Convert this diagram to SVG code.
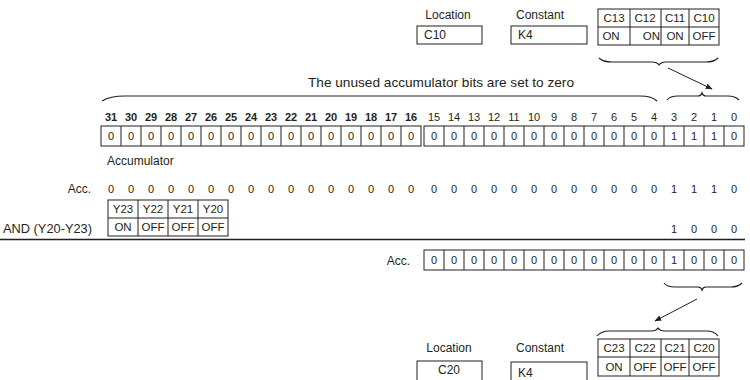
<svg xmlns="http://www.w3.org/2000/svg" width="750" height="380" viewBox="0 0 750 380">
<defs>
<style>
text{font-family:"Liberation Sans",Arial,sans-serif;font-size:11px;fill:#231f20}
.l{font-size:12px}
.t{font-size:11.5px}
.c{text-anchor:middle}
.e{text-anchor:end}
.b{font-weight:bold}
.box{fill:#fff;stroke:#231f20;stroke-width:1}
.ln{fill:none;stroke:#231f20;stroke-width:1}
.br{fill:none;stroke:#231f20;stroke-width:1.2}
</style>
<marker id="ah" viewBox="0 0 10 10" refX="9" refY="5" markerWidth="7" markerHeight="7" orient="auto" markerUnits="userSpaceOnUse">
<path d="M0,1 L10,5 L0,9 z" fill="#231f20"/>
</marker>
</defs>
<rect width="750" height="380" fill="#fff"/>

<g id="top-location">
<text x="448" y="19" class="c l">Location</text>
<rect x="417" y="26" width="65" height="18" class="box"/>
<text x="424" y="39" class="l">C10</text>
</g>
<g id="top-constant">
<text x="540" y="19" class="c l">Constant</text>
<rect x="511" y="26" width="76" height="18" class="box"/>
<text x="518" y="39" class="l">K4</text>
</g>
<g id="top-table">
<rect x="598" y="9" width="121" height="36" class="box"/>
<path d="M598,27H719M630,9V45M661,9V45M689,9V45" class="ln"/>
<text x="614" y="22" class="c t">C13</text>
<text x="645" y="22" class="c t">C12</text>
<text x="675" y="22" class="c t">C11</text>
<text x="704" y="22" class="c t">C10</text>
<text x="611" y="40" class="c t">ON</text>
<text x="660" y="40" class="e t">ON</text>
<text x="675" y="40" class="c t">ON</text>
<text x="704" y="40" class="c t">OFF</text>
</g>

<g id="unused-label">
<text x="441" y="87" class="c" style="font-size:13px" textLength="266" lengthAdjust="spacingAndGlyphs">The unused accumulator bits are set to zero</text>
</g>

<g id="bit-numbers">
<text x="111" y="121" class="c b">31</text><text x="131" y="121" class="c b">30</text><text x="151" y="121" class="c b">29</text><text x="171" y="121" class="c b">28</text>
<text x="191" y="121" class="c b">27</text><text x="211" y="121" class="c b">26</text><text x="231" y="121" class="c b">25</text><text x="251" y="121" class="c b">24</text>
<text x="271" y="121" class="c b">23</text><text x="291" y="121" class="c b">22</text><text x="311" y="121" class="c b">21</text><text x="331" y="121" class="c b">20</text>
<text x="351" y="121" class="c b">19</text><text x="371" y="121" class="c b">18</text><text x="391" y="121" class="c b">17</text><text x="411" y="121" class="c b">16</text>
<text x="434" y="121" class="c">15</text><text x="454" y="121" class="c">14</text><text x="474" y="121" class="c">13</text><text x="494" y="121" class="c">12</text>
<text x="514" y="121" class="c">11</text><text x="534" y="121" class="c">10</text><text x="554" y="121" class="c">9</text><text x="574" y="121" class="c">8</text>
<text x="594" y="121" class="c">7</text><text x="614" y="121" class="c">6</text><text x="634" y="121" class="c">5</text><text x="654" y="121" class="c">4</text>
<text x="674" y="121" class="c">3</text><text x="694" y="121" class="c">2</text><text x="714" y="121" class="c">1</text><text x="734" y="121" class="c">0</text>
</g>

<g id="accumulator-register">
<rect x="101" y="126" width="320" height="20" class="box"/>
<path d="M121,126V146M141,126V146M161,126V146M181,126V146M201,126V146M221,126V146M241,126V146M261,126V146M281,126V146M301,126V146M321,126V146M341,126V146M361,126V146M381,126V146M401,126V146" class="ln"/>
<rect x="424" y="126" width="320" height="20" class="box"/>
<path d="M444,126V146M464,126V146M484,126V146M504,126V146M524,126V146M544,126V146M564,126V146M584,126V146M604,126V146M624,126V146M644,126V146M664,126V146M684,126V146M704,126V146M724,126V146" class="ln"/>
<text x="111" y="140" class="c">0</text><text x="131" y="140" class="c">0</text><text x="151" y="140" class="c">0</text><text x="171" y="140" class="c">0</text>
<text x="191" y="140" class="c">0</text><text x="211" y="140" class="c">0</text><text x="231" y="140" class="c">0</text><text x="251" y="140" class="c">0</text>
<text x="271" y="140" class="c">0</text><text x="291" y="140" class="c">0</text><text x="311" y="140" class="c">0</text><text x="331" y="140" class="c">0</text>
<text x="351" y="140" class="c">0</text><text x="371" y="140" class="c">0</text><text x="391" y="140" class="c">0</text><text x="411" y="140" class="c">0</text>
<text x="434" y="140" class="c">0</text><text x="454" y="140" class="c">0</text><text x="474" y="140" class="c">0</text><text x="494" y="140" class="c">0</text>
<text x="514" y="140" class="c">0</text><text x="534" y="140" class="c">0</text><text x="554" y="140" class="c">0</text><text x="574" y="140" class="c">0</text>
<text x="594" y="140" class="c">0</text><text x="614" y="140" class="c">0</text><text x="634" y="140" class="c">0</text><text x="654" y="140" class="c">0</text>
<text x="674" y="140" class="c">1</text><text x="694" y="140" class="c">1</text><text x="714" y="140" class="c">1</text><text x="734" y="140" class="c">0</text>
<text x="107" y="165" class="l">Accumulator</text>
</g>

<g id="acc-row">
<text x="91" y="193" class="e l">Acc.</text>
<text x="111" y="193" class="c">0</text><text x="131" y="193" class="c">0</text><text x="151" y="193" class="c">0</text><text x="171" y="193" class="c">0</text>
<text x="191" y="193" class="c">0</text><text x="211" y="193" class="c">0</text><text x="231" y="193" class="c">0</text><text x="251" y="193" class="c">0</text>
<text x="271" y="193" class="c">0</text><text x="291" y="193" class="c">0</text><text x="311" y="193" class="c">0</text><text x="331" y="193" class="c">0</text>
<text x="351" y="193" class="c">0</text><text x="371" y="193" class="c">0</text><text x="391" y="193" class="c">0</text><text x="411" y="193" class="c">0</text>
<text x="434" y="193" class="c">0</text><text x="454" y="193" class="c">0</text><text x="474" y="193" class="c">0</text><text x="494" y="193" class="c">0</text>
<text x="514" y="193" class="c">0</text><text x="534" y="193" class="c">0</text><text x="554" y="193" class="c">0</text><text x="574" y="193" class="c">0</text>
<text x="594" y="193" class="c">0</text><text x="614" y="193" class="c">0</text><text x="634" y="193" class="c">0</text><text x="654" y="193" class="c">0</text>
<text x="674" y="193" class="c">1</text><text x="694" y="193" class="c">1</text><text x="714" y="193" class="c">1</text><text x="734" y="193" class="c">0</text>
</g>

<g id="and-operand">
<rect x="108" y="200" width="120" height="36" class="box"/>
<path d="M108,218H228M138,200V236M168,200V236M198,200V236" class="ln"/>
<text x="123" y="213" class="c t">Y23</text><text x="153" y="213" class="c t">Y22</text><text x="183" y="213" class="c t">Y21</text><text x="213" y="213" class="c t">Y20</text>
<text x="123" y="231" class="c t">ON</text><text x="153" y="231" class="c t">OFF</text><text x="183" y="231" class="c t">OFF</text><text x="213" y="231" class="c t">OFF</text>
<text x="3" y="233" class="l" textLength="89" lengthAdjust="spacingAndGlyphs">AND (Y20-Y23)</text>
<text x="674" y="233" class="c">1</text><text x="694" y="233" class="c">0</text><text x="714" y="233" class="c">0</text><text x="734" y="233" class="c">0</text>
</g>

<g id="result-acc">
<path d="M0,239.5H745" fill="none" stroke="#231f20" stroke-width="1.5"/>
<text x="410" y="265" class="e l">Acc.</text>
<rect x="424" y="250" width="320" height="20" class="box"/>
<path d="M444,250V270M464,250V270M484,250V270M504,250V270M524,250V270M544,250V270M564,250V270M584,250V270M604,250V270M624,250V270M644,250V270M664,250V270M684,250V270M704,250V270M724,250V270" class="ln"/>
<text x="434" y="264" class="c">0</text><text x="454" y="264" class="c">0</text><text x="474" y="264" class="c">0</text><text x="494" y="264" class="c">0</text>
<text x="514" y="264" class="c">0</text><text x="534" y="264" class="c">0</text><text x="554" y="264" class="c">0</text><text x="574" y="264" class="c">0</text>
<text x="594" y="264" class="c">0</text><text x="614" y="264" class="c">0</text><text x="634" y="264" class="c">0</text><text x="654" y="264" class="c">0</text>
<text x="674" y="264" class="c">1</text><text x="694" y="264" class="c">0</text><text x="714" y="264" class="c">0</text><text x="734" y="264" class="c">0</text>
</g>

<g id="bottom-location">
<text x="449" y="352" class="c l">Location</text>
<rect x="417" y="361" width="65" height="25" class="box"/>
<text x="449" y="374" class="c l">C20</text>
</g>
<g id="bottom-constant">
<text x="540" y="352" class="c l">Constant</text>
<rect x="511" y="362" width="76" height="25" class="box"/>
<text x="518" y="377" class="l">K4</text>
</g>
<g id="bottom-table">
<rect x="598" y="339" width="121" height="37" class="box"/>
<path d="M598,357H719M630,339V376M661,339V376M689,339V376" class="ln"/>
<text x="614" y="352" class="c t">C23</text><text x="645" y="352" class="c t">C22</text><text x="675" y="352" class="c t">C21</text><text x="704" y="352" class="c t">C20</text>
<text x="614" y="371" class="c t">ON</text><text x="645" y="371" class="c t">OFF</text><text x="675" y="371" class="c t">OFF</text><text x="704" y="371" class="c t">OFF</text>
</g>

<g id="connectors">
<path d="M599,58 Q603,62 612,62 H652 Q657,62 659,65 Q661,62 666,62 H706 Q714,62 718,58" class="br"/>
<line x1="668" y1="68" x2="712" y2="89" class="ln" stroke-width="1.2" marker-end="url(#ah)"/>
<path d="M102,101 Q110,96 125,96 H640 Q652,96 657,101" class="br"/>
<path d="M667,100 Q670,96 678,96 H698 Q701,96 702,93 Q703,96 706,96 H728 Q735,96 739,100" class="br"/>
<path d="M664,283 Q667,287 675,287 H698 Q701,287 702,290 Q703,287 706,287 H731 Q738,287 742,283" class="br"/>
<line x1="697" y1="299" x2="655" y2="321" class="ln" stroke-width="1.2" marker-end="url(#ah)"/>
<path d="M597,336 Q601,331 610,331 H652 Q656,331 658,328 Q660,331 664,331 H707 Q714,331 718,336" class="br"/>
</g>
</svg>
